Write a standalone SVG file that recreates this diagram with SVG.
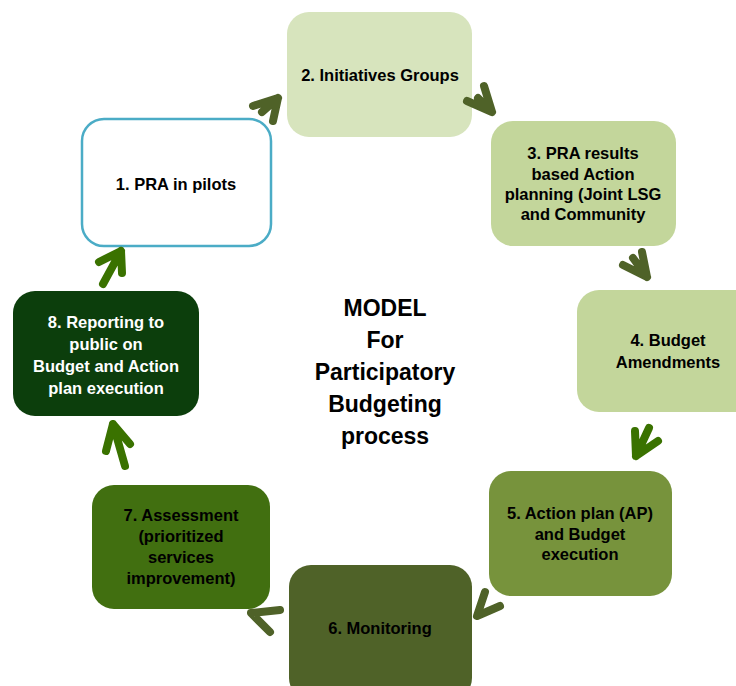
<svg xmlns="http://www.w3.org/2000/svg" width="736" height="686" viewBox="0 0 736 686">
<style>
.t{font-family:"Liberation Sans",Arial,sans-serif;font-weight:bold;font-size:16.5px;text-anchor:middle;fill:#000}
.w{fill:#fff}
.c{font-size:23px}
.a{fill:none;stroke-width:8;stroke-linecap:round;stroke-linejoin:round}
.o{stroke:#4F6228}
.g{stroke:#3A7200}
</style>
<rect width="736" height="686" fill="#fff"/>
<g id="n1"><rect x="82" y="119" width="189" height="127" rx="22" fill="#fff" stroke="#4BACC6" stroke-width="2.5"/><text class="t" x="176" y="190">1. PRA in pilots</text></g>
<g id="n2"><rect x="287" y="12" width="185" height="125" rx="22" fill="#D7E4BD"/><text class="t" x="380" y="81">2. Initiatives Groups</text></g>
<g id="n3"><rect x="491" y="121" width="185" height="125" rx="22" fill="#C3D69B"/><text class="t" x="583" y="159">3. PRA results</text><text class="t" x="583" y="180">based Action</text><text class="t" x="583" y="200">planning (Joint LSG</text><text class="t" x="583" y="220">and Community</text></g>
<g id="n4"><rect x="577" y="290" width="185" height="122" rx="22" fill="#C3D69B"/><text class="t" x="668" y="346">4. Budget</text><text class="t" x="668" y="368">Amendments</text></g>
<g id="n5"><rect x="489" y="471" width="183" height="125" rx="22" fill="#77933C"/><text class="t" x="580" y="519">5. Action plan (AP)</text><text class="t" x="580" y="540">and Budget</text><text class="t" x="580" y="560">execution</text></g>
<g id="n6"><rect x="289" y="565" width="183" height="135" rx="22" fill="#4F6228"/><text class="t" x="380" y="634">6. Monitoring</text></g>
<g id="n7"><rect x="92" y="485" width="178" height="124" rx="22" fill="#416F10"/><text class="t" x="181" y="521">7. Assessment</text><text class="t" x="181" y="542">(prioritized</text><text class="t" x="181" y="563">services</text><text class="t" x="181" y="584">improvement)</text></g>
<g id="n8"><rect x="13" y="291" width="186" height="125" rx="22" fill="#0C3E0C"/><text class="t w" x="106" y="328">8. Reporting to</text><text class="t w" x="106" y="350">public on</text><text class="t w" x="106" y="372">Budget and Action</text><text class="t w" x="106" y="394">plan execution</text></g>
<g id="title"><text class="t c" x="385" y="316">MODEL</text><text class="t c" x="385" y="348">For</text><text class="t c" x="385" y="380">Participatory</text><text class="t c" x="385" y="412">Budgeting</text><text class="t c" x="385" y="444">process</text></g>
<g id="connectors">
<path class="a o" d="M253 106 L278 98 L273 121 M262 112 L278 98"/>
<path class="a o" d="M467 101 L492 112 L484 86 M478 98 L492 112"/>
<path class="a o" d="M623 265 L647 277 L642 252 M633 258 L647 277"/>
<path class="a g" d="M635 431 L636 456 L658 441 M649 428 L636 456"/>
<path class="a o" d="M485 592 L477 616 L500 606"/>
<path class="a o" d="M280 610 L251 613 L270 632"/>
<path class="a g" d="M106 451 L113 424 L130 444 M125 466 L113 424"/>
<path class="a g" d="M99 262 L121 251 L122 273 M103 284 L121 251"/>
</g>
</svg>
